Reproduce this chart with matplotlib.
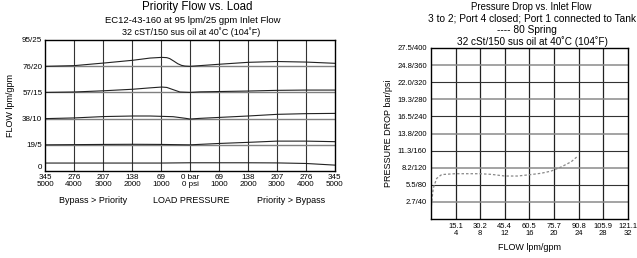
import matplotlib
matplotlib.use("Agg")
import matplotlib.pyplot as plt

plt.rcParams["font.family"] = ["Liberation Sans", "DejaVu Sans"]

# ---- left chart: priority flow vs load (x: signed load pressure in bar)
LOAD_TICKS = [-345, -276, -207, -138, -69, 0, 69, 138, 207, 276, 345]
LOAD_LABELS = ["345\n5000", "276\n4000", "207\n3000", "138\n2000", "69\n1000",
               "0 bar\n0 psi", "69\n1000", "138\n2000", "207\n3000", "276\n4000",
               "345\n5000"]
FLOW_TICKS = [0, 19, 38, 57, 76, 95]
FLOW_LABELS = ["0", "19/5", "38/10", "57/15", "76/20", "95/25"]

C1_X = [-345, -276, -205, -136, -95, -67, -55, -48, -38, -29, -20, -12, 0, 69, 138, 207, 276, 345]
C1_Y = [75.9, 76.4, 78.3, 80.3, 81.9, 82.4, 82.2, 81.5, 79.6, 77.8, 76.6, 76.1, 75.9, 77.4, 78.8, 79.4, 79.0, 78.1]
C2_X = [-345, -276, -205, -136, -95, -67, -55, -40, -24, 0, 24, 138, 207, 276, 345]
C2_Y = [57.0, 57.3, 58.2, 59.3, 60.3, 60.9, 60.6, 59.0, 57.3, 57.0, 57.4, 58.0, 58.5, 58.7, 58.7]
C3_X = [-345, -276, -205, -136, -95, -40, -10, 0, 24, 138, 207, 276, 345]
C3_Y = [38.0, 38.5, 39.5, 39.9, 39.9, 39.4, 38.2, 37.7, 38.2, 39.9, 41.1, 41.6, 41.8]
C4_X = [-345, -205, -136, -69, 0, 69, 138, 207, 276, 345]
C4_Y = [19.0, 19.3, 19.4, 19.3, 19.0, 20.0, 20.8, 21.7, 21.7, 21.3]
C5_X = [-345, -69, 0, 138, 207, 276, 345]
C5_Y = [5.8, 5.8, 6.0, 6.0, 5.9, 5.5, 4.3]

# ---- right chart: pressure drop vs inlet flow (x in gpm, y in psi)
GPM_TICKS = [4, 8, 12, 16, 20, 24, 28, 32]
GPM_LABELS = ["15.1\n4", "30.2\n8", "45.4\n12", "60.5\n16", "75.7\n20",
              "90.8\n24", "105.9\n28", "121.1\n32"]
PSI_TICKS = [40, 80, 120, 160, 200, 240, 280, 320, 360, 400]
PSI_LABELS = ["2.7/40", "5.5/80", "8.2/120", "11.3/160", "13.8/200",
              "16.5/240", "19.3/280", "22.0/320", "24.8/360", "27.5/400"]

DROP_X = [0.05, 0.11, 0.37, 0.92, 1.73, 3.9, 7.9, 9.8, 12.0, 14.1, 16.0,
          17.9, 19.5, 21.2, 22.8, 23.85]
DROP_Y = [21, 40, 72, 95, 104, 106, 106, 104.5, 100.6, 100.6, 103.6,
          107, 112, 122, 134, 147]

fig = plt.figure(figsize=(6.37, 2.58), dpi=100)

# left
ax1 = fig.add_axes([0.0707, 0.337, 0.455, 0.508])
for x in LOAD_TICKS[1:-1]:
    ax1.axvline(x, color="#333333", lw=0.8, zorder=1)
for y in FLOW_TICKS[1:-1]:
    ax1.axhline(y, color="#808080", lw=1.0, zorder=1)
for xs, ys in [(C1_X, C1_Y), (C2_X, C2_Y), (C3_X, C3_Y), (C4_X, C4_Y), (C5_X, C5_Y)]:
    ax1.plot(xs, ys, color="#222222", lw=0.8, zorder=2)
ax1.set_xlim(-345, 345)
ax1.set_ylim(0, 95)
ax1.set_xticks(LOAD_TICKS, LOAD_LABELS)
ax1.set_yticks(FLOW_TICKS, FLOW_LABELS)
ax1.tick_params(length=0, labelsize=5.8, pad=2)
ax1.get_yticklabels()[0].set_va("bottom")
for lab in ax1.get_xticklabels():
    lab.set_linespacing(0.95)
for s in ax1.spines.values():
    s.set_linewidth(1.0)
ax1.set_ylabel("FLOW lpm/gpm", fontsize=6.5, labelpad=5)

fig.text(0.146, 0.224, "Bypass > Priority", fontsize=6.5, ha="center", va="center")
fig.text(0.300, 0.224, "LOAD PRESSURE", fontsize=6.5, ha="center", va="center")
fig.text(0.457, 0.224, "Priority > Bypass", fontsize=6.5, ha="center", va="center")

fig.text(0.310, 0.972, "Priority Flow vs. Load", fontsize=8.3, ha="center", va="center")
fig.text(0.302, 0.919, "EC12-43-160 at 95 lpm/25 gpm Inlet Flow", fontsize=6.8, ha="center", va="center")
fig.text(0.300, 0.876, "32 cST/150 sus oil at 40\u02daC (104\u02daF)", fontsize=6.5, ha="center", va="center")

# right
ax2 = fig.add_axes([0.6766, 0.151, 0.309, 0.663])
for x in GPM_TICKS[:-1]:
    ax2.axvline(x, color="#222222", lw=0.9, zorder=1)
for i, y in enumerate(PSI_TICKS[:-1]):
    ax2.axhline(y, color="#8a8a8a" if i % 2 == 0 else "#333333",
                lw=1.1 if i % 2 == 0 else 0.8, zorder=1)
ax2.plot(DROP_X, DROP_Y, color="#888888", lw=0.9, ls=(0, (2.0, 1.6)), zorder=2)
ax2.set_xlim(0, 32)
ax2.set_ylim(0, 400)
ax2.set_xticks(GPM_TICKS, GPM_LABELS)
ax2.set_yticks(PSI_TICKS, PSI_LABELS)
ax2.tick_params(length=0, labelsize=5.5, pad=3)
for lab in ax2.get_xticklabels():
    lab.set_linespacing(0.95)
for s in ax2.spines.values():
    s.set_linewidth(1.0)
ax2.set_xlabel("FLOW lpm/gpm", fontsize=6.5, labelpad=4)
ax2.set_ylabel("PRESSURE DROP bar/psi", fontsize=6.5, labelpad=3)

fig.text(0.834, 0.974, "Pressure Drop vs. Inlet Flow", fontsize=6.9, ha="center", va="center")
fig.text(0.835, 0.929, "3 to 2; Port 4 closed; Port 1 connected to Tank", fontsize=7.3, ha="center", va="center")
fig.text(0.828, 0.884, "---- 80 Spring", fontsize=7.3, ha="center", va="center")
fig.text(0.836, 0.838, "32 cSt/150 sus oil at 40\u02daC (104\u02daF)", fontsize=7.2, ha="center", va="center")

fig.savefig("out.png", dpi=100)
